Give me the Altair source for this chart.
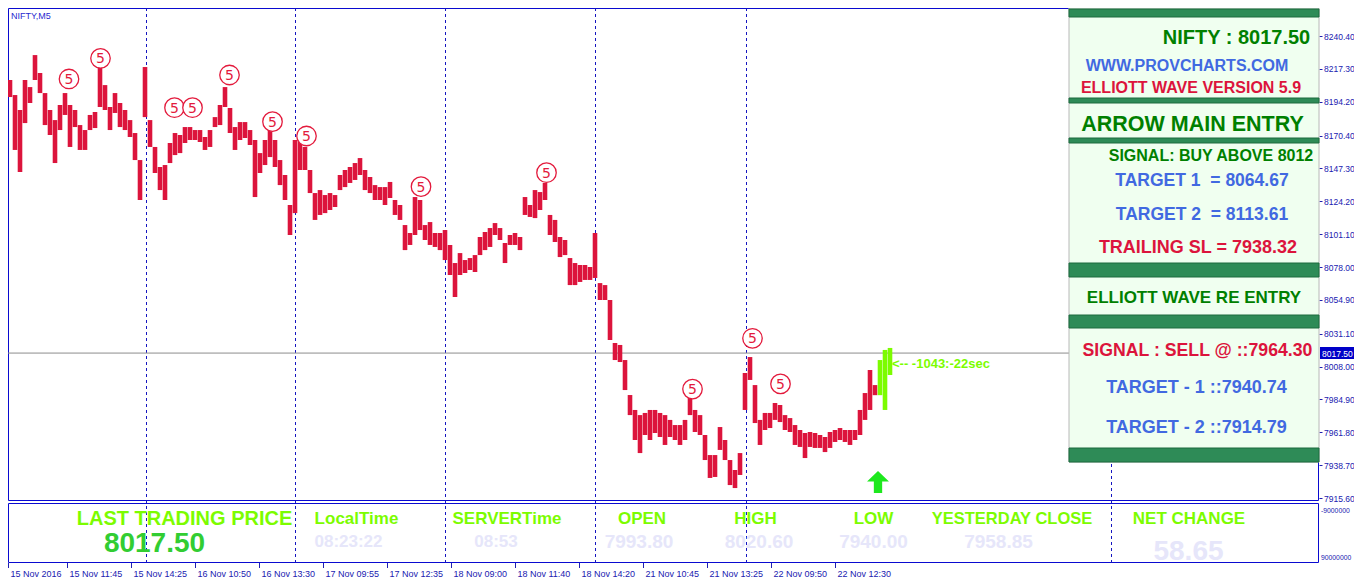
import altair as alt
import pandas as pd

# ---------------- data ----------------
# one slot = one sampled bar of the M5 chart (high / low in index points)
bar_high = [
    8222.1, 8209.5, 8198.9, 8188.4, 8209.5, 8204.5, 8227.0, 8214.4, 8200.3, 8188.4,
    8181.3, 8191.9, 8200.3, 8191.9, 8188.4, 8177.8, 8174.3, 8184.9, 8187.0, 8218.6,
    8205.9, 8190.5, 8200.3, 8193.3, 8188.4, 8181.3, 8172.2, 8153.2, 8218.6, 8181.3,
    8162.4, 8148.3, 8149.7, 8165.2, 8172.2, 8170.8, 8176.4, 8176.4, 8174.3, 8174.3,
    8169.4, 8174.3, 8183.4, 8191.9, 8204.5, 8189.8, 8176.4, 8179.9, 8179.9, 8174.3,
    8167.3, 8158.1, 8167.3, 8174.3, 8167.3, 8153.2, 8142.7, 8121.6, 8167.3, 8167.3,
    8162.4, 8146.2, 8130.0, 8132.1, 8128.6, 8130.0, 8128.6, 8142.7, 8146.2, 8148.3,
    8151.1, 8154.6, 8146.2, 8141.3, 8135.6, 8134.2, 8134.2, 8137.8, 8125.1, 8121.6,
    8107.5, 8101.9, 8127.2, 8125.1, 8107.5, 8109.6, 8101.9, 8101.9, 8104.0, 8093.5,
    8080.8, 8087.8, 8082.9, 8084.3, 8086.4, 8099.1, 8102.6, 8105.4, 8108.9, 8105.4,
    8094.9, 8100.5, 8101.9, 8099.1, 8127.2, 8121.6, 8132.1, 8130.7, 8137.1, 8114.6,
    8111.1, 8099.1, 8097.0, 8084.3, 8080.8, 8079.4, 8079.4, 8078.0, 8101.9, 8066.7,
    8065.3, 8054.8, 8024.6, 8023.2, 8012.6, 7988.0, 7977.5, 7973.9, 7975.4, 7977.5,
    7977.5, 7975.4, 7973.9, 7970.5, 7966.9, 7966.9, 7970.5, 7985.9, 7977.5, 7973.9,
    7959.9, 7945.8, 7945.8, 7965.5, 7956.4, 7942.3, 7935.3, 7947.2, 8003.5, 8014.7,
    7995.0, 7970.5, 7975.4, 7975.4, 7982.4, 7981.0, 7973.9, 7971.8, 7966.9, 7963.4,
    7961.3, 7962.0, 7961.3, 7959.9, 7958.5, 7962.0, 7963.4, 7964.8, 7963.4, 7963.4,
    7963.4, 7977.5, 7989.4, 8005.6, 7995.0, 8012.6, 8019.7, 8021.1,
]
bar_low = [
    8213.0, 8197.5, 8160.3, 8144.8, 8179.2, 8193.3, 8209.5, 8200.3, 8177.8, 8170.8,
    8151.1, 8174.3, 8184.9, 8162.4, 8176.4, 8160.3, 8160.3, 8174.3, 8175.7, 8190.5,
    8188.4, 8174.3, 8186.3, 8176.4, 8174.3, 8169.4, 8153.2, 8125.1, 8183.4, 8162.4,
    8144.1, 8132.1, 8125.1, 8151.1, 8156.7, 8158.1, 8165.2, 8167.3, 8167.3, 8165.9,
    8160.3, 8162.4, 8176.4, 8177.8, 8190.5, 8172.2, 8160.3, 8167.3, 8168.7, 8163.8,
    8127.2, 8144.1, 8149.7, 8155.3, 8148.3, 8135.6, 8125.1, 8100.5, 8115.9, 8146.2,
    8146.2, 8130.0, 8111.1, 8114.6, 8115.9, 8118.1, 8120.2, 8132.1, 8134.2, 8137.1,
    8139.2, 8142.7, 8132.1, 8130.0, 8125.1, 8125.1, 8121.6, 8126.5, 8114.6, 8111.1,
    8089.9, 8093.5, 8100.5, 8104.0, 8097.0, 8093.5, 8092.1, 8089.9, 8082.9, 8072.4,
    8056.9, 8072.4, 8073.8, 8075.9, 8074.5, 8086.4, 8089.9, 8092.1, 8100.5, 8097.0,
    8080.8, 8093.5, 8093.5, 8089.9, 8114.6, 8113.2, 8112.4, 8118.1, 8125.1, 8100.5,
    8095.6, 8085.0, 8086.4, 8065.3, 8065.3, 8067.5, 8068.9, 8068.9, 8070.3, 8054.8,
    8054.8, 8026.7, 8012.6, 8011.2, 7991.5, 7973.9, 7956.4, 7947.2, 7959.9, 7956.4,
    7961.3, 7958.5, 7952.9, 7958.5, 7956.4, 7952.9, 7956.4, 7973.9, 7962.0, 7959.9,
    7942.3, 7929.7, 7930.4, 7949.4, 7942.3, 7924.7, 7922.6, 7931.8, 7977.5, 7998.6,
    7968.3, 7952.9, 7963.4, 7964.8, 7970.5, 7969.0, 7963.4, 7962.0, 7952.9, 7951.5,
    7943.7, 7951.5, 7950.8, 7950.8, 7947.9, 7950.8, 7955.0, 7956.4, 7955.0, 7952.9,
    7956.4, 7959.9, 7970.5, 7977.5, 7987.9, 7987.9, 7977.5, 8002.1,
]
n_live = 3  # last bars drawn in green (forming bars)

wave_idx = [13.8, 20.1, 34.9, 38.5, 45.9, 54.5, 61.3, 84.2, 109.3, 138.5, 150.5, 156.1]
wave_price = [8210.2, 8224.7, 8190.0, 8190.0, 8213.0, 8180.2, 8170.1, 8134.5, 8144.3,
              7992.2, 8027.9, 7995.8]

sep_idx = [29.3, 59.1, 89.1, 119.1, 149.3, 222.3]

price_ticks = [8240.40, 8217.30, 8194.20, 8170.40, 8147.30, 8124.20, 8101.10, 8078.00,
               8054.90, 8031.10, 8008.00, 7984.90, 7961.80, 7938.70, 7915.60]
last_price = 8017.50

time_tick_idx = [1.7, 13.5, 26.3, 39.1, 51.9, 64.7, 77.5, 90.3, 103.1, 115.9,
                 128.7, 141.5, 154.3, 167.1]
time_labels = ["15 Nov 2016", "15 Nov 11:45", "15 Nov 14:25", "16 Nov 10:50",
               "16 Nov 13:30", "17 Nov 09:55", "17 Nov 12:35", "18 Nov 09:00",
               "18 Nov 11:40", "18 Nov 14:20", "21 Nov 10:45", "21 Nov 13:25",
               "22 Nov 09:50", "22 Nov 12:30"]

arrow_idx, arrow_price = 175.6, 7926.9
timer_idx, timer_price = 178.4, 8007.0
timer_text = "<-- -1043:-22sec"

panel_texts = [
    ("NIFTY : 8017.50", "green", 20),
    ("WWW.PROVCHARTS.COM", "blue", 16),
    ("ELLIOTT WAVE VERSION 5.9", "red", 16),
    ("ARROW MAIN ENTRY", "green", 21.5),
    ("SIGNAL: BUY ABOVE 8012", "green", 16),
    ("TARGET 1 \u00a0= 8064.67", "blue", 17.5),
    ("TARGET 2 \u00a0= 8113.61", "blue", 17.5),
    ("TRAILING SL = 7938.32", "red", 18),
    ("ELLIOTT WAVE RE ENTRY", "green", 17),
    ("SIGNAL : SELL @ ::7964.30", "red", 17.7),
    ("TARGET - 1 ::7940.74", "blue", 18),
    ("TARGET - 2 ::7914.79", "blue", 18),
]
bottom_titles = ["LAST TRADING PRICE", "LocalTime", "SERVERTime", "OPEN", "HIGH", "LOW",
                 "YESTERDAY CLOSE", "NET CHANGE"]
bottom_values = ["8017.50", "08:23:22", "08:53", "7993.80", "8020.60", "7940.00",
                 "7958.85", "58.65"]
sub_axis_labels = ["-9000000", "90000000"]

# ---------------- layout (pixels) ----------------
W, H = 1311, 493          # main price panel
B0, HB = 495, 60          # bottom info panel top and height
TOTAL_H = B0 + HB
NAVY = "#2020b0"
FRAME = "#0a0ad0"
COLORS = {"green": "#008000", "blue": "#4169e1", "red": "#dc143c"}
FONT = "Liberation Sans"

X_SCALE = alt.Scale(domain=[1.6, 263.8], nice=False, zero=False)
Y_SCALE = alt.Scale(domain=[7913.5, 8260.1], range=[H, 0], nice=False, zero=False)
Y_AXIS = alt.Axis(orient="right", values=price_ticks, format=".2f", title=None,
                  labelFont=FONT, labelFontSize=8.5, labelColor=NAVY, tickColor=NAVY,
                  tickSize=3, labelPadding=1.5, domain=False, grid=False)

bars = pd.DataFrame({
    "i": list(range(1, len(bar_high) + 1)),
    "high": bar_high,
    "low": bar_low,
    "state": ["hist"] * (len(bar_high) - n_live) + ["live"] * n_live,
})
waves = pd.DataFrame({"i": wave_idx, "p": wave_price})
seps = pd.DataFrame({"i": sep_idx})
ticks = pd.DataFrame({"i": time_tick_idx, "lab": time_labels})
one = pd.DataFrame({"a": [0]})


def xq(f="i"):
    return alt.X(f"{f}:Q", scale=X_SCALE, axis=None)


def yq(f):
    return alt.Y(f"{f}:Q", scale=Y_SCALE, axis=Y_AXIS)


def box(x0, x1, y0, y1, **kw):
    return alt.Chart(one).mark_rect(**kw).encode(
        x=alt.value(x0), x2=alt.value(x1), y=alt.value(y0), y2=alt.value(y1))


def label(txt, x, y, **kw):
    return alt.Chart(one).mark_text(text=txt, **kw).encode(x=alt.value(x), y=alt.value(y))


layers = []
# frames of the two panels
layers.append(box(0.5, W - 0.5, 0.5, H - 0.5, filled=False, color=FRAME, strokeWidth=1))
layers.append(box(0.5, W - 0.5, B0 + 0.5, TOTAL_H - 0.5, filled=False, color=FRAME, strokeWidth=1))

# period separators through both panels
layers.append(alt.Chart(seps).mark_rule(color="#1515c0", strokeDash=[3, 3], strokeWidth=1)
              .encode(x=xq(), y=alt.value(0), y2=alt.value(TOTAL_H)))
# bid line
layers.append(alt.Chart(pd.DataFrame({"p": [last_price]})).mark_rule(color="#8c8c8c", strokeWidth=1)
              .encode(y=yq("p"), x=alt.value(0), x2=alt.value(W)))
# price bars
layers.append(alt.Chart(bars).mark_rule(strokeWidth=4.6).encode(
    x=xq(), y=yq("high"), y2="low:Q",
    color=alt.Color("state:N", scale=alt.Scale(domain=["hist", "live"],
                                               range=["#dc143c", "#7cfc00"]), legend=None)))
# elliott wave "5" labels
layers.append(alt.Chart(waves).mark_point(shape="circle", size=380, fill="white",
                                          stroke="#e31a3c", strokeWidth=1.3, opacity=1)
              .encode(x=xq(), y=yq("p")))
layers.append(alt.Chart(waves).mark_text(text="5", font="DejaVu Sans", fontSize=14,
                                         color="#e31a3c", baseline="middle", dy=1)
              .encode(x=xq(), y=yq("p")))
# buy arrow
layers.append(alt.Chart(pd.DataFrame({"i": [arrow_idx], "p": [arrow_price]})).mark_point(
    shape="M0,-1L1,-0.05L0.38,-0.05L0.38,1L-0.38,1L-0.38,-0.05L-1,-0.05Z",
    size=480, filled=True, color="#1ee81e", opacity=1).encode(x=xq(), y=yq("p")))
# bar timer
layers.append(alt.Chart(pd.DataFrame({"i": [timer_idx], "p": [timer_price]})).mark_text(
    text=timer_text, font=FONT, fontSize=13, fontWeight="bold", color="#7cfc00",
    align="left", baseline="alphabetic").encode(x=xq(), y=yq("p")))

# symbol label
layers.append(label("NIFTY,M5", 3, 11, font=FONT, fontSize=9, color="#2a2ad0",
                    align="left", baseline="alphabetic"))

# info panel
PX0 = 1061
layers.append(box(PX0, W, 0, 454, fill="#f0fff0", stroke="#b8b8b8", strokeWidth=1))
for (y0, y1) in [(1, 9), (90, 95), (130, 135), (255, 269), (307, 320), (440, 454)]:
    layers.append(box(PX0, W, y0, y1, fill="#2e8b57", stroke="#1d6b3f", strokeWidth=1))
panel_pos = [(1228.5, 36), (1179, 63), (1183, 85), (1184.5, 123), (1203, 153), (1194, 178),
             (1194, 212), (1190, 245), (1186, 295), (1189.5, 348), (1188.5, 385), (1188.5, 425)]
for (txt, col, fs), (cx, by) in zip(panel_texts, panel_pos):
    layers.append(label(txt, cx, by, font=FONT, fontSize=fs, fontWeight="bold",
                        color=COLORS[col], align="center", baseline="alphabetic"))

# current price tag on the axis
layers.append(box(W + 1, W + 43, 339, 351, fill="#0000c8"))
layers.append(label(f"{last_price:.2f}", W + 3, 345.5, font=FONT, fontSize=8.5, color="white",
                    align="left", baseline="middle"))

# ---------------- bottom panel ----------------
layers.append(alt.Chart(ticks).mark_rule(color=NAVY, strokeWidth=1)
              .encode(x=xq(), y=alt.value(TOTAL_H), y2=alt.value(TOTAL_H + 5)))
layers.append(alt.Chart(ticks).mark_text(font=FONT, fontSize=9, color=NAVY, align="left",
                                         baseline="alphabetic", dx=2)
              .encode(x=xq(), y=alt.value(TOTAL_H + 13.5), text="lab:N"))
title_pos = [(176.5, 22, 20), (348.5, 21, 17), (499, 21, 17), (634, 21, 17), (747.5, 21, 17),
             (865.5, 21, 17), (1004, 21, 16.5), (1181, 21, 17)]
value_pos = [(146.5, 49, 28), (340.5, 44, 17), (488, 44, 17), (631, 45, 19), (751, 45, 19),
             (865.5, 45, 19), (990.5, 45, 19), (1180.5, 57, 28)]
for txt, (cx, by, fs) in zip(bottom_titles, title_pos):
    layers.append(label(txt, cx, B0 + by, font=FONT, fontSize=fs, fontWeight="bold",
                        color="#7cfc00", align="center", baseline="alphabetic"))
for k, (txt, (cx, by, fs)) in enumerate(zip(bottom_values, value_pos)):
    layers.append(label(txt, cx, B0 + by, font=FONT, fontSize=fs, fontWeight="bold",
                        color="#32cd32" if k == 0 else "#e6e6fa",
                        align="center", baseline="alphabetic"))
for txt, by in zip(sub_axis_labels, [10, 57]):
    layers.append(label(txt, W + 2, B0 + by, font=FONT, fontSize=6.8, color=NAVY,
                        align="left", baseline="alphabetic"))

chart = alt.layer(*layers).properties(
    width=W, height=TOTAL_H,
    autosize=alt.AutoSizeParams(type="none"),
    padding={"left": 0, "top": 0, "right": 35, "bottom": 14},
    background="white",
).configure_view(strokeWidth=0)

chart.save("out.html", embed_options={"renderer": "svg", "actions": False})
